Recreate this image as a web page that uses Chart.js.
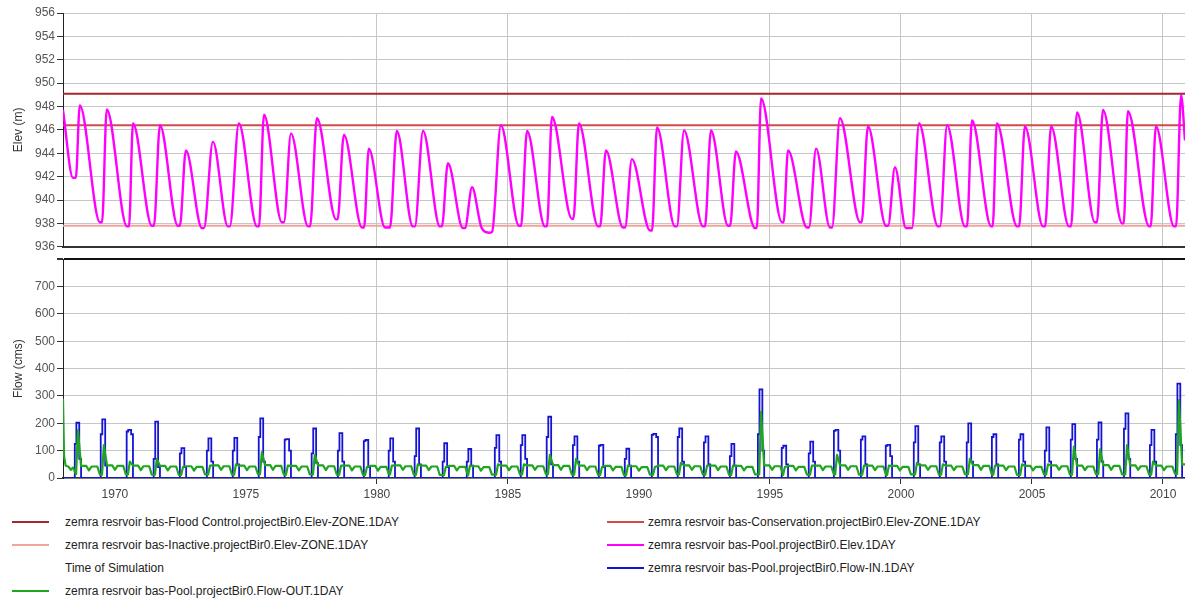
<!DOCTYPE html>
<html>
<head>
<meta charset="utf-8">
<script src="https://cdn.jsdelivr.net/npm/chart.js@4.4.1/dist/chart.umd.min.js"></script>
<style>
  html, body { margin: 0; padding: 0; background: #fff; }
  #wrap { position: relative; width: 1185px; height: 601px; overflow: hidden; font-family: "Liberation Sans", Arial, sans-serif; }
  #elevChart { position: absolute; left: 0; top: 0; }
  #flowChart { position: absolute; left: 0; top: 250px; }
  .leg { position: absolute; font-size: 12px; color: #222; white-space: nowrap; line-height: 14px; }
  .leg i { position: absolute; left: 0; top: 6px; height: 2px; width: 37px; }
</style>
</head>
<body>
<div id="wrap">
  <canvas id="elevChart" width="1185" height="256"></canvas>
  <canvas id="flowChart" width="1185" height="258"></canvas>
  <div id="legend"></div>
</div>
<script>
// time axis (decimal years)
const xMin = 1968.02, xMax = 2010.84;
const yearTicks = [1970, 1975, 1980, 1985, 1990, 1995, 2000, 2005, 2010];
const yearsWithoutGrid = [1970, 1975, 1990]; // grid lines not visible there in the original

// zone elevations (m)
const floodControlElev = 949.1;
const conservationElev = 946.4;
const inactiveElev = 937.8;

// pool elevation, [year, m] at peaks and troughs
const poolElev = [
  [1968.02, 947.7], [1968.40, 941.9], [1968.51, 941.9], [1968.66, 948.1],
  [1969.43, 938.1], [1969.51, 938.1], [1969.69, 947.75],
  [1970.46, 937.75], [1970.54, 937.75], [1970.69, 946.55],
  [1971.41, 937.8], [1971.49, 937.8], [1971.72, 946.4],
  [1972.40, 937.8], [1972.48, 937.8], [1972.71, 944.25],
  [1973.32, 937.6], [1973.40, 937.6], [1973.74, 945.0],
  [1974.31, 937.75], [1974.39, 937.75], [1974.73, 946.55],
  [1975.42, 937.75], [1975.50, 937.75], [1975.69, 947.3],
  [1976.37, 938.1], [1976.45, 938.1], [1976.72, 945.7],
  [1977.37, 937.75], [1977.45, 937.75], [1977.71, 947.0],
  [1978.44, 938.35], [1978.50, 938.35], [1978.74, 945.6],
  [1979.43, 937.65], [1979.51, 937.65], [1979.69, 944.4],
  [1980.31, 937.65], [1980.50, 937.65], [1980.76, 945.9],
  [1981.37, 937.75], [1981.45, 937.75], [1981.76, 945.9],
  [1982.40, 937.75], [1982.48, 937.75], [1982.71, 943.15],
  [1983.28, 937.6], [1983.36, 937.6], [1983.63, 941.1],
  [1984.00, 937.6], [1984.31, 937.2], [1984.40, 937.3], [1984.73, 946.4],
  [1985.42, 937.8], [1985.50, 937.8], [1985.73, 945.9],
  [1986.41, 937.75], [1986.49, 937.75], [1986.68, 947.1],
  [1987.44, 938.4], [1987.50, 938.4], [1987.71, 946.55],
  [1988.44, 937.75], [1988.52, 937.75], [1988.74, 944.25],
  [1989.39, 937.65], [1989.47, 937.65], [1989.73, 943.5],
  [1990.42, 937.4], [1990.50, 937.4], [1990.69, 946.2],
  [1991.37, 937.75], [1991.45, 937.75], [1991.72, 945.95],
  [1992.44, 937.75], [1992.52, 937.75], [1992.75, 945.95],
  [1993.40, 937.8], [1993.48, 937.8], [1993.70, 944.15],
  [1994.43, 937.6], [1994.50, 937.6], [1994.66, 948.7],
  [1995.46, 938.1], [1995.52, 938.1], [1995.69, 944.25],
  [1996.41, 937.65], [1996.49, 937.65], [1996.76, 944.4],
  [1997.29, 937.65], [1997.37, 937.65], [1997.67, 947.0],
  [1998.44, 938.1], [1998.50, 938.1], [1998.74, 946.3],
  [1999.43, 937.8], [1999.51, 937.8], [1999.77, 942.8],
  [2000.19, 937.6], [2000.42, 937.6], [2000.69, 946.55],
  [2001.41, 937.75], [2001.49, 937.75], [2001.76, 946.4],
  [2002.44, 937.75], [2002.52, 937.75], [2002.71, 946.8],
  [2003.44, 937.75], [2003.50, 937.75], [2003.66, 946.55],
  [2004.43, 937.75], [2004.51, 937.75], [2004.73, 946.3],
  [2005.42, 937.75], [2005.50, 937.75], [2005.73, 946.3],
  [2006.41, 937.75], [2006.49, 937.75], [2006.72, 947.5],
  [2007.40, 938.1], [2007.48, 938.1], [2007.71, 947.7],
  [2008.44, 938.0], [2008.50, 938.0], [2008.66, 947.6],
  [2009.47, 937.75], [2009.53, 937.75], [2009.73, 946.3],
  [2010.42, 937.75], [2010.50, 937.75], [2010.69, 949.0],
  [2010.84, 945.1]
];

// yearly inflow pulses (cms)
const pulseYears = [1968.59, 1969.58, 1970.57, 1971.60, 1972.60, 1973.63, 1974.62, 1975.61, 1976.60, 1977.63,
  1978.63, 1979.62, 1980.57, 1981.56, 1982.63, 1983.55, 1984.62, 1985.61, 1986.60, 1987.60,
  1988.59, 1989.58, 1990.61, 1991.60, 1992.60, 1993.59, 1994.66, 1995.57, 1996.60, 1997.56,
  1998.59, 1999.54, 2000.61, 2001.60, 2002.63, 2003.59, 2004.62, 2005.61, 2006.60, 2007.60,
  2008.63, 2009.62, 2010.61];
const inflowRise = [125, 160, 170, 70, 90, 100, 100, 150, 140, 90, 100, 135, 100, 80, 60, 60, 110, 120, 150, 120,
  118, 70, 158, 150, 130, 80, 160, 110, 90, 172, 140, 118, 130, 130, 130, 150, 140, 100, 140, 140, 180, 120, 160];
const inflowPeak = [202, 214, 176, 206, 109, 145, 147, 218, 142, 181, 164, 139, 145, 181, 127, 106, 157, 157, 224, 152,
  121, 107, 161, 181, 152, 125, 324, 118, 133, 176, 152, 121, 190, 152, 200, 160, 160, 185, 197, 203, 236, 176, 345];
const inflowTail = [70, 45, 160, 40, 40, 60, 50, 60, 100, 55, 60, 40, 60, 50, 40, 45, 60, 70, 50, 60,
  40, 45, 150, 60, 50, 45, 100, 50, 60, 100, 50, 80, 50, 60, 60, 50, 60, 60, 70, 60, 70, 60, 120];

// outflow (cms): spike at each pulse, two humps during the year, low before the next pulse
const outflowStart = [[1968.02, 290], [1968.06, 80], [1968.12, 45], [1968.22, 42], [1968.32, 30], [1968.40, 38]];
const outflowPeak = [175, 120, 60, 70, 40, 45, 50, 95, 45, 85, 45, 40, 45, 50, 40, 45, 50, 50, 85, 70,
  40, 45, 40, 55, 45, 45, 242, 40, 45, 85, 45, 45, 55, 50, 70, 45, 50, 50, 115, 105, 120, 60, 285];
const outflowHumpA = [44, 46, 45, 44, 43, 46, 45, 47, 44, 46, 45, 44, 46, 45, 44, 43, 45, 46, 47, 45,
  44, 43, 45, 46, 45, 44, 46, 44, 45, 46, 45, 44, 46, 45, 47, 45, 44, 46, 45, 47, 46, 45, 50];
const outflowDip = [28, 30, 29, 28, 27, 30, 29, 30, 28, 29, 28, 27, 30, 29, 28, 27, 29, 30, 30, 29,
  28, 27, 29, 30, 29, 28, 30, 28, 29, 30, 29, 28, 30, 29, 30, 29, 28, 30, 29, 30, 30, 29, 32];
const outflowHumpB = [42, 44, 43, 42, 41, 43, 42, 44, 42, 43, 42, 41, 43, 42, 41, 40, 42, 43, 44, 42,
  41, 40, 42, 43, 42, 41, 43, 41, 42, 43, 42, 41, 43, 42, 44, 42, 41, 43, 42, 44, 43, 42, 45];
const outflowLow = [14, 12, 13, 12, 11, 13, 12, 14, 12, 13, 12, 11, 13, 12, 11, 10, 12, 13, 14, 12,
  11, 10, 12, 13, 12, 11, 13, 11, 12, 13, 12, 11, 13, 12, 14, 12, 11, 13, 12, 14, 13, 12, 15];

const labels = {
  flood: 'zemra resrvoir bas-Flood Control.projectBir0.Elev-ZONE.1DAY',
  cons: 'zemra resrvoir bas-Conservation.projectBir0.Elev-ZONE.1DAY',
  inact: 'zemra resrvoir bas-Inactive.projectBir0.Elev-ZONE.1DAY',
  pool: 'zemra resrvoir bas-Pool.projectBir0.Elev.1DAY',
  time: 'Time of Simulation',
  inflow: 'zemra resrvoir bas-Pool.projectBir0.Flow-IN.1DAY',
  outflow: 'zemra resrvoir bas-Pool.projectBir0.Flow-OUT.1DAY'
};

const colors = {
  flood: '#a3282b', cons: '#d24a4a', inact: '#f2a39c', pool: '#ff00ff',
  time: null, inflow: '#1414d2', outflow: '#1fa51f'
};

// ---- build points ----
const flat = v => [{ x: xMin, y: v }, { x: xMax, y: v }];
const poolPts = poolElev.map(([x, y]) => ({ x, y }));

// each point's value holds until the next point (stepped: 'before')
const inflowPts = [{ x: xMin, y: 0 }];
pulseYears.forEach((t, i) => {
  inflowPts.push(
    { x: t - 0.12, y: inflowRise[i] },
    { x: t - 0.06, y: inflowPeak[i] },
    { x: t + 0.05, y: inflowTail[i] },
    { x: t + 0.12, y: 0 }
  );
});
inflowPts.push({ x: xMax, y: 0 });

const outflowPts = outflowStart.map(([x, y]) => ({ x, y }));
pulseYears.forEach((t, i) => {
  const next = outflowLow[i + 1] !== undefined ? outflowLow[i + 1] : 14;
  outflowPts.push(
    { x: t - 0.07, y: outflowLow[i] },
    { x: t, y: outflowPeak[i] },
    { x: t + 0.12, y: outflowHumpA[i] },
    { x: t + 0.32, y: outflowHumpA[i] },
    { x: t + 0.42, y: outflowDip[i] },
    { x: t + 0.52, y: outflowHumpB[i] },
    { x: t + 0.74, y: outflowHumpB[i] },
    { x: t + 0.84, y: next }
  );
});

// ---- shared axis pieces ----
const tickFont = { family: '"Liberation Sans", Arial, sans-serif', size: 12 };
const gridColor = '#c6c6c6';
const xGridColor = ctx => (ctx.tick && yearsWithoutGrid.includes(ctx.tick.value)) ? 'rgba(0,0,0,0)' : gridColor;
const xTickColor = ctx => (ctx.tick && yearsWithoutGrid.includes(ctx.tick.value)) ? 'rgba(0,0,0,0)' : '#333';

function xAxis(showLabels, height) {
  return {
    type: 'linear', min: xMin, max: xMax,
    afterBuildTicks: s => { s.ticks = yearTicks.map(v => ({ value: v })); },
    afterFit: s => { s.height = height; },
    grid: { color: xGridColor, tickColor: xTickColor, drawTicks: showLabels, tickLength: 6, lineWidth: 1 },
    border: { color: '#333', width: showLabels ? 1.5 : 2 },
    ticks: { display: showLabels, color: '#444', font: tickFont, padding: 3, maxRotation: 0, callback: v => String(v) }
  };
}

function yAxis(opts) {
  return Object.assign({
    afterFit: s => { s.width = 63; },
    border: { color: '#222', width: 1 }
  }, opts);
}

const lineDefaults = { pointRadius: 0, pointHoverRadius: 0, fill: false, tension: 0 };

new Chart(document.getElementById('elevChart'), {
  type: 'line',
  data: {
    datasets: [
      Object.assign({}, lineDefaults, { label: labels.pool, data: poolPts, borderColor: colors.pool, borderWidth: 2.4, cubicInterpolationMode: 'monotone', order: 0 }),
      Object.assign({}, lineDefaults, { label: labels.flood, data: flat(floodControlElev), borderColor: colors.flood, borderWidth: 2, order: 1 }),
      Object.assign({}, lineDefaults, { label: labels.cons, data: flat(conservationElev), borderColor: colors.cons, borderWidth: 2, order: 1 }),
      Object.assign({}, lineDefaults, { label: labels.inact, data: flat(inactiveElev), borderColor: colors.inact, borderWidth: 2, order: 1 })
    ]
  },
  options: {
    responsive: false, animation: false, events: [],
    layout: { padding: { top: 13, right: 0, bottom: 0, left: 0 } },
    plugins: { legend: { display: false }, tooltip: { enabled: false } },
    scales: {
      x: xAxis(false, 5),
      y: yAxis({
        min: 936, max: 956,
        ticks: { stepSize: 2, color: '#555', font: tickFont, padding: 2 },
        grid: { color: gridColor, tickColor: '#333', tickLength: 6 },
        title: { display: true, text: 'Elev (m)', color: '#333', font: tickFont, padding: { top: 11, bottom: 0 } }
      })
    }
  }
});

new Chart(document.getElementById('flowChart'), {
  type: 'line',
  data: {
    datasets: [
      Object.assign({}, lineDefaults, { label: labels.outflow, data: outflowPts, borderColor: colors.outflow, borderWidth: 2.2, borderJoinStyle: 'round', order: 0 }),
      Object.assign({}, lineDefaults, { label: labels.inflow, data: inflowPts, borderColor: colors.inflow, borderWidth: 1.8, stepped: 'before', order: 1 })
    ]
  },
  options: {
    responsive: false, animation: false, events: [],
    layout: { padding: { top: 7, right: 0, bottom: 0, left: 0 } },
    plugins: { legend: { display: false }, tooltip: { enabled: false } },
    scales: {
      x: xAxis(true, 30),
      y: yAxis({
        min: 0, max: 800,
        ticks: { stepSize: 100, color: '#555', font: tickFont, padding: 2, callback: v => (v === 800 ? '' : String(v)) },
        grid: {
          color: ctx => (ctx.tick && ctx.tick.value === 800) ? '#111' : gridColor,
          lineWidth: ctx => (ctx.tick && ctx.tick.value === 800) ? 2 : 1,
          tickColor: '#333', tickLength: 6
        },
        title: { display: true, text: 'Flow (cms)', color: '#333', font: tickFont, padding: { top: 11, bottom: 0 } }
      })
    }
  }
});

// ---- legend (two columns, as in the original) ----
const legendItems = [
  ['flood', 12, 522], ['cons', 607, 522],
  ['inact', 12, 545], ['pool', 607, 545],
  ['time', 12, 568], ['inflow', 607, 568],
  ['outflow', 12, 591]
];
const legendEl = document.getElementById('legend');
legendItems.forEach(([key, left, y]) => {
  const d = document.createElement('div');
  d.className = 'leg';
  d.style.left = left + 'px';
  d.style.top = (y - 7) + 'px';
  d.style.paddingLeft = (left < 300 ? 53 : 41) + 'px';
  if (colors[key]) {
    const i = document.createElement('i');
    i.style.background = colors[key];
    d.appendChild(i);
  }
  d.appendChild(document.createTextNode(labels[key]));
  legendEl.appendChild(d);
});
</script>
</body>
</html>
